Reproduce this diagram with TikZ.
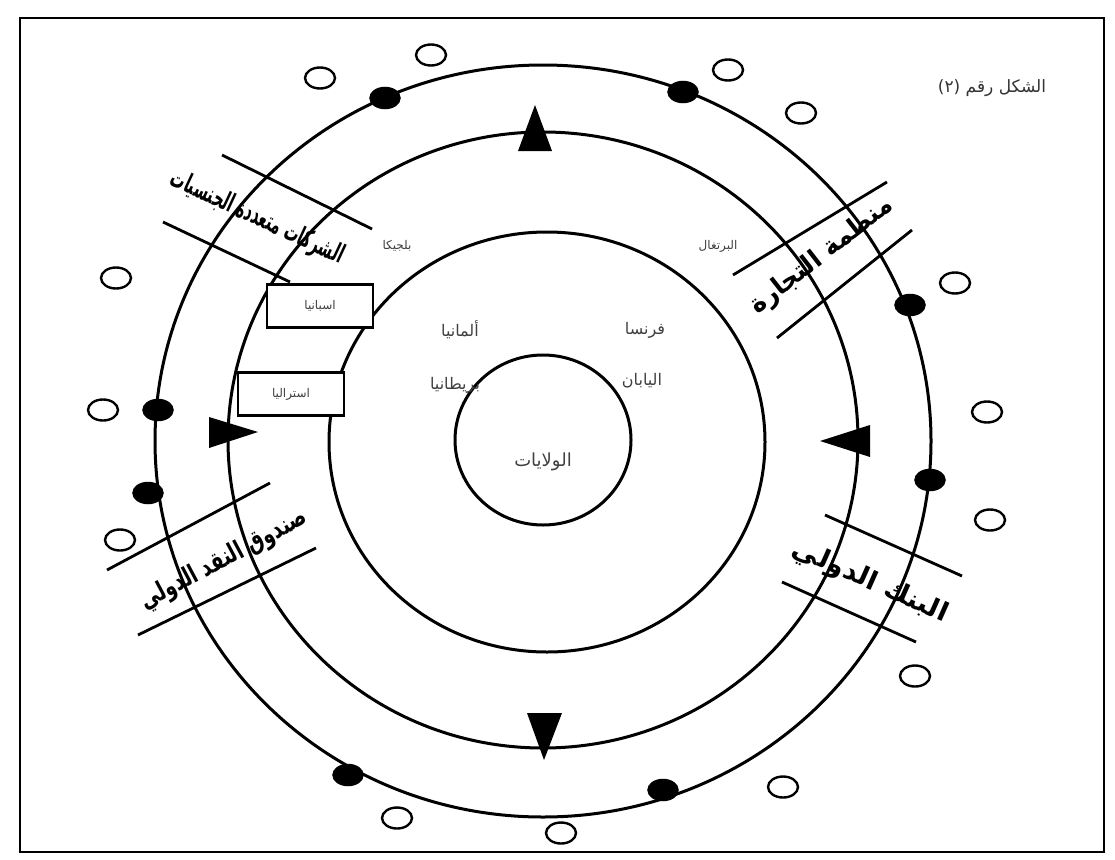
\documentclass[tikz,border=0pt]{standalone}
\usepackage{fontspec}
\TeXXeTstate=1
\newfontfamily\arabicfont[Script=Arabic]{DejaVu Sans}
\begin{document}
\begin{tikzpicture}[x=1pt,y=-1pt,
  ring/.style={line width=3pt},
  bandline/.style={line width=2.8pt},
  blackdot/.style={fill=black,draw=black,line width=1.5pt},
  opendot/.style={draw=black,line width=2.4pt},
  tri/.style={fill=black},
  bandtext/.style={font=\arabicfont\bfseries\fontsize{26}{30}\selectfont, inner sep=0pt},
  country/.style={font=\arabicfont\fontsize{16}{19}\selectfont, text=black!75, inner sep=1pt},
  small/.style={font=\arabicfont\fontsize{12}{14}\selectfont, text=black!75, inner sep=1pt},
  boxed/.style={draw=black, line width=2.6pt, fill=white, minimum width=106pt, minimum height=43pt, font=\arabicfont\fontsize{12}{14}\selectfont, text=black!75}
]
\useasboundingbox (0,0) rectangle (1115,859);
\fill[white] (0,0) rectangle (1115,859);
% frame
\draw[line width=2.4pt] (20,18) rectangle (1104,852);
% rings
\draw[ring] (543,441) ellipse [x radius=388pt, y radius=376pt];
\draw[ring] (543,440) ellipse [x radius=315pt, y radius=308pt];
\draw[ring] (547,442) ellipse [x radius=218pt, y radius=210pt];
\draw[ring] (543,440) ellipse [x radius=88pt, y radius=85pt];

% band lines
\draw[bandline] (222,155) -- (372,229);
\draw[bandline] (163,222) -- (290,282);
\draw[bandline] (733,275) -- (887,182);
\draw[bandline] (777,338) -- (912,230);
\draw[bandline] (107,570) -- (270,483);
\draw[bandline] (138,635) -- (316,548);
\draw[bandline] (825,515) -- (962,576);
\draw[bandline] (782,582) -- (916,642);

% band texts
\node[bandtext, rotate=-25] (tl) at (257,218) {\scalebox{0.56}[1]{\beginR الشركات متعددة الجنسيات\endR}};
\node[bandtext, rotate=38] (tr) at (822,256) {\scalebox{0.95}[1]{\beginR منظمة التجارة\endR}};
\node[bandtext, rotate=28] (bl) at (224,560) {\scalebox{0.72}[1]{\beginR صندوق النقد الدولي\endR}};
\node[bandtext, rotate=-24] (br) at (870,582) {\scalebox{1.05}[1]{\beginR البنك الدولي\endR}};

% boxes
\node[boxed] (spain) at (320,306) {\beginR اسبانيا\endR};
\node[boxed] (austr) at (291,394) {\beginR استراليا\endR};

% country labels
\node[small] (belg) at (397,246) {\beginR بلجيكا\endR};
\node[small] (port) at (718,246) {\beginR البرتغال\endR};
\node[country] (germ) at (460,330) {\beginR ألمانيا\endR};
\node[country] (fran) at (645,330) {\beginR فرنسا\endR};
\node[country] (brit) at (455,385) {\beginR بريطانيا\endR};
\node[country] (japn) at (642,381) {\beginR اليابان\endR};
\node[country, font=\arabicfont\fontsize{18}{22}\selectfont] (usa) at (543,462) {\beginR الولايات\endR};

% title
\node[font=\arabicfont\fontsize{17}{20}\selectfont, text=black!80, inner sep=0pt] (title) at (992,88) {\beginR الشكل رقم \beginL(٢)\endL\endR};

% triangles
\fill[tri] (535,105) -- (552,151) -- (518,151) -- cycle;
\fill[tri] (544,760) -- (527,713) -- (562,713) -- cycle;
\fill[tri] (820,441) -- (870,425) -- (870,457) -- cycle;
\fill[tri] (258,432) -- (209,417) -- (209,448) -- cycle;

% black dots on outer ring
\foreach \p in {(385,98),(683,92),(910,305),(930,480),(158,410),(148,493),(348,775),(663,790)}
  \draw[blackdot] \p ellipse [x radius=15pt, y radius=10.5pt];

% open dots
\foreach \p in {(320,78),(431,55),(728,70),(801,113),(955,283),(987,412),(990,520),(915,676),(116,278),(103,410),(120,540),(397,818),(783,787),(561,833)}
  \draw[opendot, fill=white] \p ellipse [x radius=15pt, y radius=10.5pt];
\end{tikzpicture}
\end{document}
